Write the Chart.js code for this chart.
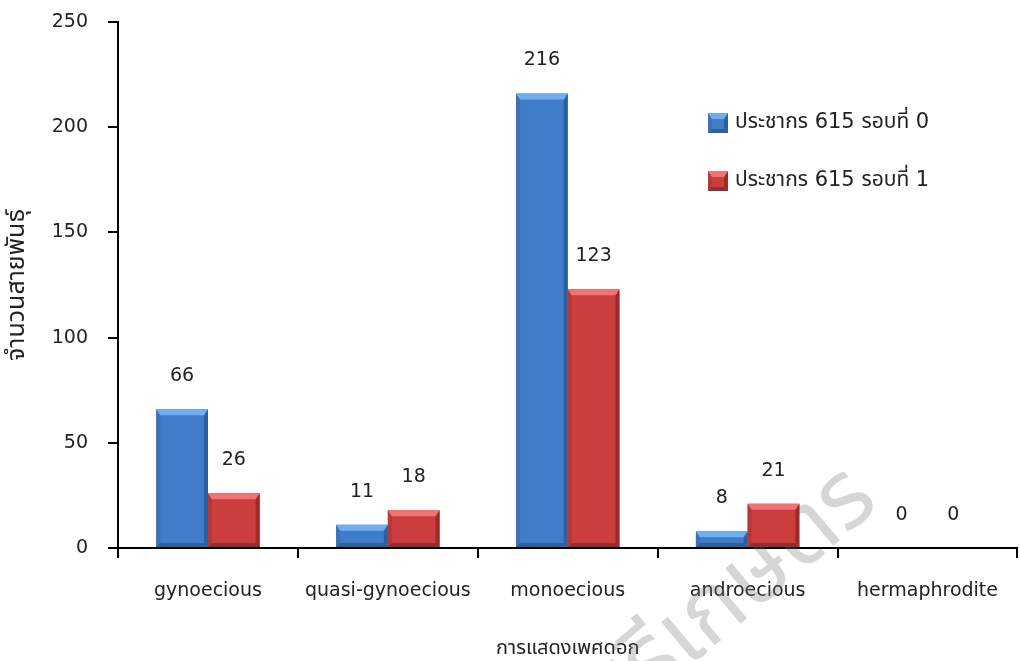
<!DOCTYPE html>
<html lang="th">
<head>
    <meta charset="UTF-8">
    <title>การแสดงเพศดอก</title>
    <script src="https://cdn.jsdelivr.net/npm/chart.js@4.4.1/dist/chart.umd.min.js"></script>
    <style>
        html, body { margin: 0; padding: 0; background: #fff; }
        .chart-container { position: relative; width: 1020px; height: 661px; }
    </style>
</head>
<body>
    <div class="chart-container">
        <canvas id="flowerChart" width="1020" height="661"></canvas>
    </div>

    <script>
        // data
        const categories = ['gynoecious', 'quasi-gynoecious', 'monoecious', 'androecious', 'hermaphrodite'];
        const round0 = [66, 11, 216, 8, 0];
        const round1 = [26, 18, 123, 21, 0];
        const seriesLabels = ['ประชากร 615 รอบที่ 0', 'ประชากร 615 รอบที่ 1'];
        const yTicks = [0, 50, 100, 150, 200, 250];

        const FONT = '"DejaVu Sans", "Noto Sans Thai", "Noto Sans", sans-serif';
        const TEXT = '#222';

        // body / top bevel / left edge / right+bottom edge
        const palette = [
            { body: '#3f7dc9', light: '#74adec', side: '#3a72bb', dark: '#2d5e9f' },
            { body: '#cc3e3e', light: '#ec7676', side: '#bb3535', dark: '#9a2b2b' }
        ];

        function drawBevel(ctx, el, pal) {
            const l = el.x - el.width / 2, r = el.x + el.width / 2;
            const t = Math.min(el.y, el.base), b = Math.max(el.y, el.base);
            const h = b - t;
            if (h < 1) return;
            const bv = Math.min(6, h / 2);
            const sv = Math.min(4, h / 2);
            ctx.save();
            // left strip
            ctx.fillStyle = pal.side;
            ctx.beginPath();
            ctx.moveTo(l, t); ctx.lineTo(l + sv, t + bv); ctx.lineTo(l + sv, b - sv); ctx.lineTo(l, b);
            ctx.closePath(); ctx.fill();
            // right strip
            ctx.fillStyle = pal.dark;
            ctx.beginPath();
            ctx.moveTo(r, t); ctx.lineTo(r - sv, t + bv); ctx.lineTo(r - sv, b - sv); ctx.lineTo(r, b);
            ctx.closePath(); ctx.fill();
            // bottom strip
            ctx.beginPath();
            ctx.moveTo(l, b); ctx.lineTo(l + sv, b - sv); ctx.lineTo(r - sv, b - sv); ctx.lineTo(r, b);
            ctx.closePath(); ctx.fill();
            // top bevel
            ctx.fillStyle = pal.light;
            ctx.beginPath();
            ctx.moveTo(l, t); ctx.lineTo(r, t); ctx.lineTo(r - sv, t + bv); ctx.lineTo(l + sv, t + bv);
            ctx.closePath(); ctx.fill();
            ctx.restore();
        }

        const barExtras = {
            id: 'barExtras',
            beforeDatasetsDraw(chart) {
                // faint watermark
                const ctx = chart.ctx;
                ctx.save();
                ctx.translate(728, 602);
                ctx.rotate(-40 * Math.PI / 180);
                ctx.font = '95px ' + FONT;
                ctx.fillStyle = 'rgba(120,120,120,0.30)';
                ctx.textAlign = 'center';
                ctx.textBaseline = 'middle';
                ctx.fillText('ศรีเกษตร', 0, 0);
                ctx.restore();
            },
            afterDatasetsDraw(chart) {
                const ctx = chart.ctx;
                chart.data.datasets.forEach((ds, i) => {
                    const meta = chart.getDatasetMeta(i);
                    meta.data.forEach((el, j) => {
                        drawBevel(ctx, el, palette[i]);
                        ctx.save();
                        ctx.font = '19px ' + FONT;
                        ctx.fillStyle = TEXT;
                        ctx.textAlign = 'center';
                        ctx.textBaseline = 'middle';
                        ctx.fillText(String(ds.data[j]), el.x, el.y - 33);
                        ctx.restore();
                    });
                });

                // legend
                seriesLabels.forEach((lab, i) => {
                    const x = 708, y = 113 + i * 58;
                    ctx.save();
                    ctx.fillStyle = palette[i].body;
                    ctx.fillRect(x, y, 20, 20);
                    ctx.restore();
                    drawBevel(ctx, { x: x + 10, y: y, base: y + 20, width: 20 }, palette[i]);
                    ctx.save();
                    ctx.font = '21px ' + FONT;
                    ctx.fillStyle = TEXT;
                    ctx.textBaseline = 'middle';
                    ctx.fillText(lab, x + 27, y + 10);
                    ctx.restore();
                });
            }
        };

        new Chart(document.getElementById('flowerChart'), {
            type: 'bar',
            data: {
                labels: categories,
                datasets: [
                    { label: seriesLabels[0], data: round0, backgroundColor: palette[0].body },
                    { label: seriesLabels[1], data: round1, backgroundColor: palette[1].body }
                ]
            },
            options: {
                responsive: false,
                animation: false,
                devicePixelRatio: 1,
                layout: { padding: { top: 22, right: 0, left: 0, bottom: 0 } },
                datasets: {
                    bar: { categoryPercentage: 0.575, barPercentage: 1.0 }
                },
                plugins: {
                    legend: { display: false },
                    tooltip: { enabled: false }
                },
                scales: {
                    x: {
                        afterFit(scale) { scale.height = 113; },
                        grid: {
                            offset: true,
                            drawOnChartArea: false,
                            drawTicks: true,
                            tickLength: 10,
                            color: '#000',
                            lineWidth: 2
                        },
                        border: { display: true, color: '#000', width: 2 },
                        ticks: {
                            color: TEXT,
                            font: { family: FONT, size: 19 },
                            padding: 22,
                            maxRotation: 0
                        },
                        title: {
                            display: true,
                            text: 'การแสดงเพศดอก',
                            color: TEXT,
                            font: { family: FONT, size: 20 },
                            padding: { top: 20, bottom: 0 }
                        }
                    },
                    y: {
                        min: 0,
                        max: 250,
                        afterBuildTicks(scale) {
                            scale.ticks = yTicks.map(v => ({ value: v }));
                        },
                        afterFit(scale) {
                            scale.width = 118;
                            scale.paddingTop = 0;
                            scale.paddingBottom = 0;
                        },
                        grid: {
                            drawOnChartArea: false,
                            drawTicks: true,
                            tickLength: 10,
                            color: '#000',
                            lineWidth: 2
                        },
                        border: { display: true, color: '#000', width: 2 },
                        ticks: {
                            color: TEXT,
                            font: { family: FONT, size: 19 },
                            padding: 20
                        },
                        title: {
                            display: true,
                            text: 'จำนวนสายพันธุ์',
                            color: TEXT,
                            font: { family: FONT, size: 25 },
                            padding: { top: 2, bottom: 0 }
                        }
                    }
                }
            },
            plugins: [barExtras]
        });
    </script>
</body>
</html>
